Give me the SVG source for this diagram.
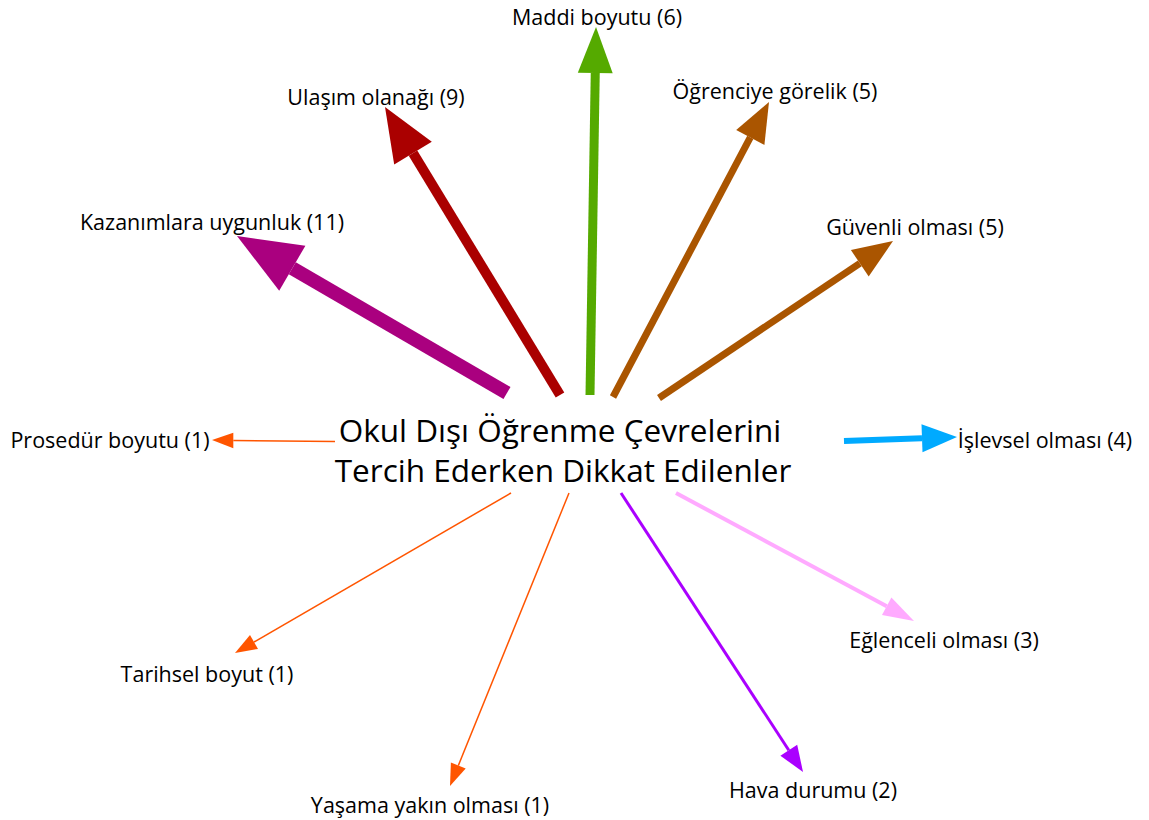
<svg xmlns="http://www.w3.org/2000/svg" width="1149" height="820" viewBox="0 0 1149 820">
  <style>
    text { font-family: "Open Sans", "Noto Sans", "DejaVu Sans", sans-serif; fill: #000; }
    .lbl { font-size: 21.5px; text-anchor: middle; }
    .title { font-size: 31.5px; text-anchor: middle; }
    .edge line { stroke-linecap: butt; fill: none; }
  </style>
  <rect width="1149" height="820" fill="#fff"/>

  <g id="connectors" class="edge">
    <!-- Kazanımlara uygunluk (11) -->
    <g id="e-kazanim">
      <line x1="507" y1="393" x2="292.3" y2="268.2" stroke="#AA007F" stroke-width="14"/>
      <polygon points="237,236 305.4,245.7 279.2,290.7" fill="#AA007F"/>
    </g>
    <!-- Ulaşım olanağı (9) -->
    <g id="e-ulasim">
      <line x1="560" y1="395" x2="413" y2="153.1" stroke="#AA0000" stroke-width="10"/>
      <polygon points="385,107 431.8,141.7 394.2,164.5" fill="#AA0000"/>
    </g>
    <!-- Maddi boyutu (6) -->
    <g id="e-maddi">
      <line x1="590" y1="395" x2="595.25" y2="73" stroke="#55AA00" stroke-width="9"/>
      <polygon points="596,27 612.7,73.3 577.8,72.7" fill="#55AA00"/>
    </g>
    <!-- Öğrenciye görelik (5) -->
    <g id="e-ogrenci">
      <line x1="613" y1="397" x2="750.3" y2="137.4" stroke="#AA5500" stroke-width="7"/>
      <polygon points="769,102 764.4,144.9 736.2,129.9" fill="#AA5500"/>
    </g>
    <!-- Güvenli olması (5) -->
    <g id="e-guvenli">
      <line x1="659" y1="398" x2="859.8" y2="263.3" stroke="#AA5500" stroke-width="7"/>
      <polygon points="893,241 868.7,276.6 850.9,250" fill="#AA5500"/>
    </g>
    <!-- İşlevsel olması (4) -->
    <g id="e-islevsel">
      <line x1="844" y1="441" x2="922" y2="438.2" stroke="#00AAFF" stroke-width="6"/>
      <polygon points="957,437 922.5,452.2 921.5,424.2" fill="#00AAFF"/>
    </g>
    <!-- Eğlenceli olması (3) -->
    <g id="e-eglenceli">
      <line x1="676" y1="493" x2="886.7" y2="606.3" stroke="#FFAAFF" stroke-width="4"/>
      <polygon points="914,621 882,615.1 891.4,597.5" fill="#FFAAFF"/>
    </g>
    <!-- Hava durumu (2) -->
    <g id="e-hava">
      <line x1="621" y1="493" x2="788.8" y2="750.2" stroke="#AA00FF" stroke-width="3"/>
      <polygon points="803,772 780.4,755.7 797.2,744.7" fill="#AA00FF"/>
    </g>
    <!-- Yaşama yakın olması (1) -->
    <g id="e-yasama">
      <line x1="569" y1="493" x2="458.3" y2="765.6" stroke="#FF5500" stroke-width="1.5"/>
      <polygon points="450,786 465.7,768.6 450.9,762.6" fill="#FF5500"/>
    </g>
    <!-- Tarihsel boyut (1) -->
    <g id="e-tarihsel">
      <line x1="511" y1="493" x2="254" y2="642" stroke="#FF5500" stroke-width="1.5"/>
      <polygon points="235,653 258,648.9 250,635.1" fill="#FF5500"/>
    </g>
    <!-- Prosedür boyutu (1) -->
    <g id="e-prosedur">
      <line x1="335" y1="441.5" x2="233.3" y2="440.5" stroke="#FF5500" stroke-width="1.5"/>
      <polygon points="212,440 233.3,432.7 233.3,448.3" fill="#FF5500"/>
    </g>
  </g>

  <g id="center">
    <text class="title" x="560" y="442">Okul Dışı Öğrenme Çevrelerini</text>
    <text class="title" x="563" y="482">Tercih Ederken Dikkat Edilenler</text>
  </g>

  <g id="n-maddi"><text class="lbl" x="597" y="25">Maddi boyutu (6)</text></g>
  <g id="n-ulasim"><text class="lbl" x="376" y="105">Ulaşım olanağı (9)</text></g>
  <g id="n-ogrenci"><text class="lbl" x="775" y="99">Öğrenciye görelik (5)</text></g>
  <g id="n-kazanim"><text class="lbl" x="212" y="230">Kazanımlara uygunluk (11)</text></g>
  <g id="n-guvenli"><text class="lbl" x="915" y="235">Güvenli olması (5)</text></g>
  <g id="n-prosedur"><text class="lbl" x="110" y="448">Prosedür boyutu (1)</text></g>
  <g id="n-islevsel"><text class="lbl" x="1045" y="448">İşlevsel olması (4)</text></g>
  <g id="n-tarihsel"><text class="lbl" x="207" y="682">Tarihsel boyut (1)</text></g>
  <g id="n-eglenceli"><text class="lbl" x="944" y="648">Eğlenceli olması (3)</text></g>
  <g id="n-yasama"><text class="lbl" x="430" y="813">Yaşama yakın olması (1)</text></g>
  <g id="n-hava"><text class="lbl" x="813" y="798">Hava durumu (2)</text></g>
</svg>
